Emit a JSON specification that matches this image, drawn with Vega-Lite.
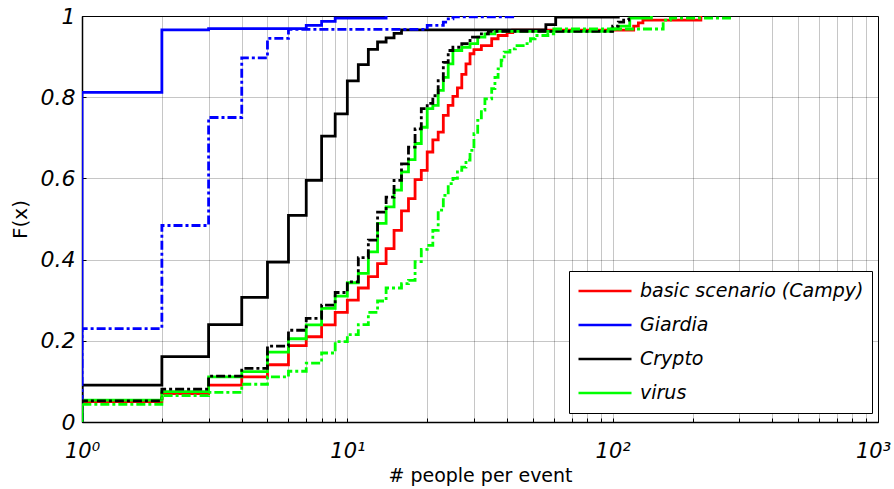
{
  "$schema": "https://vega.github.io/schema/vega-lite/v6.json",
  "autosize": "none",
  "width": 796,
  "height": 406,
  "padding": {"left": 82, "top": 16, "right": 16, "bottom": 67},
  "background": "white",
  "config": {
    "view": {"stroke": "black", "strokeWidth": 1},
    "axis": {
      "domainColor": "black",
      "domainWidth": 1.5,
      "gridColor": "#000000",
      "gridOpacity": 0.45,
      "gridDash": [1, 1],
      "gridWidth": 1,
      "ticks": true,
      "tickSize": -4,
      "tickColor": "black",
      "tickWidth": 1,
      "labelFlush": false,
      "labelColor": "black",
      "labelFont": "DejaVu Sans",
      "labelFontStyle": "italic",
      "labelFontSize": 22,
      "titleColor": "black",
      "titleFont": "DejaVu Sans",
      "titleFontWeight": "normal",
      "titleFontSize": 19
    },
    "legend": {
      "labelFont": "DejaVu Sans",
      "labelFontStyle": "italic",
      "labelFontSize": 19,
      "labelColor": "black",
      "labelLimit": 400
    }
  },
  "data": {
    "values": [
      {"agent": "basic scenario (Campy)", "run": "a", "n": 1, "F": 0},
      {"agent": "basic scenario (Campy)", "run": "a", "n": 1, "F": 0.050},
      {"agent": "basic scenario (Campy)", "run": "a", "n": 2, "F": 0.070},
      {"agent": "basic scenario (Campy)", "run": "a", "n": 3, "F": 0.091},
      {"agent": "basic scenario (Campy)", "run": "a", "n": 4, "F": 0.111},
      {"agent": "basic scenario (Campy)", "run": "a", "n": 5, "F": 0.141},
      {"agent": "basic scenario (Campy)", "run": "a", "n": 6, "F": 0.188},
      {"agent": "basic scenario (Campy)", "run": "a", "n": 7, "F": 0.210},
      {"agent": "basic scenario (Campy)", "run": "a", "n": 8, "F": 0.239},
      {"agent": "basic scenario (Campy)", "run": "a", "n": 9, "F": 0.270},
      {"agent": "basic scenario (Campy)", "run": "a", "n": 10, "F": 0.300},
      {"agent": "basic scenario (Campy)", "run": "a", "n": 11, "F": 0.330},
      {"agent": "basic scenario (Campy)", "run": "a", "n": 12, "F": 0.358},
      {"agent": "basic scenario (Campy)", "run": "a", "n": 13, "F": 0.390},
      {"agent": "basic scenario (Campy)", "run": "a", "n": 14, "F": 0.427},
      {"agent": "basic scenario (Campy)", "run": "a", "n": 15, "F": 0.472},
      {"agent": "basic scenario (Campy)", "run": "a", "n": 16, "F": 0.520},
      {"agent": "basic scenario (Campy)", "run": "a", "n": 17, "F": 0.550},
      {"agent": "basic scenario (Campy)", "run": "a", "n": 18, "F": 0.597},
      {"agent": "basic scenario (Campy)", "run": "a", "n": 19, "F": 0.620},
      {"agent": "basic scenario (Campy)", "run": "a", "n": 20, "F": 0.665},
      {"agent": "basic scenario (Campy)", "run": "a", "n": 21, "F": 0.695},
      {"agent": "basic scenario (Campy)", "run": "a", "n": 22, "F": 0.714},
      {"agent": "basic scenario (Campy)", "run": "a", "n": 23, "F": 0.755},
      {"agent": "basic scenario (Campy)", "run": "a", "n": 24, "F": 0.780},
      {"agent": "basic scenario (Campy)", "run": "a", "n": 25, "F": 0.802},
      {"agent": "basic scenario (Campy)", "run": "a", "n": 26, "F": 0.823},
      {"agent": "basic scenario (Campy)", "run": "a", "n": 27, "F": 0.856},
      {"agent": "basic scenario (Campy)", "run": "a", "n": 28, "F": 0.882},
      {"agent": "basic scenario (Campy)", "run": "a", "n": 29, "F": 0.907},
      {"agent": "basic scenario (Campy)", "run": "a", "n": 30, "F": 0.917},
      {"agent": "basic scenario (Campy)", "run": "a", "n": 32, "F": 0.927},
      {"agent": "basic scenario (Campy)", "run": "a", "n": 35, "F": 0.944},
      {"agent": "basic scenario (Campy)", "run": "a", "n": 37, "F": 0.952},
      {"agent": "basic scenario (Campy)", "run": "a", "n": 40, "F": 0.959},
      {"agent": "basic scenario (Campy)", "run": "a", "n": 42, "F": 0.965},
      {"agent": "basic scenario (Campy)", "run": "a", "n": 120, "F": 0.975},
      {"agent": "basic scenario (Campy)", "run": "a", "n": 125, "F": 0.983},
      {"agent": "basic scenario (Campy)", "run": "a", "n": 130, "F": 0.990},
      {"agent": "basic scenario (Campy)", "run": "a", "n": 215, "F": 1.0},

      {"agent": "Giardia", "run": "a", "n": 1, "F": 0},
      {"agent": "Giardia", "run": "a", "n": 1, "F": 0.812},
      {"agent": "Giardia", "run": "a", "n": 2, "F": 0.966},
      {"agent": "Giardia", "run": "a", "n": 3, "F": 0.969},
      {"agent": "Giardia", "run": "a", "n": 7, "F": 0.977},
      {"agent": "Giardia", "run": "a", "n": 8, "F": 0.987},
      {"agent": "Giardia", "run": "a", "n": 9, "F": 0.995},
      {"agent": "Giardia", "run": "a", "n": 14, "F": 1.0},

      {"agent": "Crypto", "run": "a", "n": 1, "F": 0},
      {"agent": "Crypto", "run": "a", "n": 1, "F": 0.091},
      {"agent": "Crypto", "run": "a", "n": 2, "F": 0.161},
      {"agent": "Crypto", "run": "a", "n": 3, "F": 0.240},
      {"agent": "Crypto", "run": "a", "n": 4, "F": 0.307},
      {"agent": "Crypto", "run": "a", "n": 5, "F": 0.394},
      {"agent": "Crypto", "run": "a", "n": 6, "F": 0.509},
      {"agent": "Crypto", "run": "a", "n": 7, "F": 0.595},
      {"agent": "Crypto", "run": "a", "n": 8, "F": 0.704},
      {"agent": "Crypto", "run": "a", "n": 9, "F": 0.759},
      {"agent": "Crypto", "run": "a", "n": 10, "F": 0.840},
      {"agent": "Crypto", "run": "a", "n": 11, "F": 0.880},
      {"agent": "Crypto", "run": "a", "n": 12, "F": 0.918},
      {"agent": "Crypto", "run": "a", "n": 13, "F": 0.936},
      {"agent": "Crypto", "run": "a", "n": 14, "F": 0.946},
      {"agent": "Crypto", "run": "a", "n": 15, "F": 0.957},
      {"agent": "Crypto", "run": "a", "n": 16, "F": 0.966},
      {"agent": "Crypto", "run": "a", "n": 56, "F": 0.979},
      {"agent": "Crypto", "run": "a", "n": 61, "F": 0.997},
      {"agent": "Crypto", "run": "a", "n": 105, "F": 1.0},

      {"agent": "virus", "run": "a", "n": 1, "F": 0},
      {"agent": "virus", "run": "a", "n": 1, "F": 0.054},
      {"agent": "virus", "run": "a", "n": 2, "F": 0.075},
      {"agent": "virus", "run": "a", "n": 3, "F": 0.111},
      {"agent": "virus", "run": "a", "n": 4, "F": 0.124},
      {"agent": "virus", "run": "a", "n": 5, "F": 0.172},
      {"agent": "virus", "run": "a", "n": 6, "F": 0.205},
      {"agent": "virus", "run": "a", "n": 7, "F": 0.239},
      {"agent": "virus", "run": "a", "n": 8, "F": 0.280},
      {"agent": "virus", "run": "a", "n": 9, "F": 0.310},
      {"agent": "virus", "run": "a", "n": 10, "F": 0.343},
      {"agent": "virus", "run": "a", "n": 11, "F": 0.366},
      {"agent": "virus", "run": "a", "n": 12, "F": 0.419},
      {"agent": "virus", "run": "a", "n": 13, "F": 0.489},
      {"agent": "virus", "run": "a", "n": 14, "F": 0.530},
      {"agent": "virus", "run": "a", "n": 15, "F": 0.571},
      {"agent": "virus", "run": "a", "n": 16, "F": 0.616},
      {"agent": "virus", "run": "a", "n": 17, "F": 0.646},
      {"agent": "virus", "run": "a", "n": 18, "F": 0.686},
      {"agent": "virus", "run": "a", "n": 19, "F": 0.726},
      {"agent": "virus", "run": "a", "n": 20, "F": 0.772},
      {"agent": "virus", "run": "a", "n": 21, "F": 0.780},
      {"agent": "virus", "run": "a", "n": 22, "F": 0.817},
      {"agent": "virus", "run": "a", "n": 23, "F": 0.849},
      {"agent": "virus", "run": "a", "n": 24, "F": 0.882},
      {"agent": "virus", "run": "a", "n": 25, "F": 0.915},
      {"agent": "virus", "run": "a", "n": 27, "F": 0.923},
      {"agent": "virus", "run": "a", "n": 29, "F": 0.932},
      {"agent": "virus", "run": "a", "n": 31, "F": 0.948},
      {"agent": "virus", "run": "a", "n": 33, "F": 0.956},
      {"agent": "virus", "run": "a", "n": 36, "F": 0.962},
      {"agent": "virus", "run": "a", "n": 99, "F": 0.968},
      {"agent": "virus", "run": "a", "n": 105, "F": 0.975},
      {"agent": "virus", "run": "a", "n": 116, "F": 0.995},
      {"agent": "virus", "run": "a", "n": 140, "F": 1.0},

      {"agent": "Giardia", "run": "b", "n": 1, "F": 0},
      {"agent": "Giardia", "run": "b", "n": 1, "F": 0.230},
      {"agent": "Giardia", "run": "b", "n": 2, "F": 0.484},
      {"agent": "Giardia", "run": "b", "n": 3, "F": 0.750},
      {"agent": "Giardia", "run": "b", "n": 4, "F": 0.897},
      {"agent": "Giardia", "run": "b", "n": 5, "F": 0.945},
      {"agent": "Giardia", "run": "b", "n": 6, "F": 0.967},
      {"agent": "Giardia", "run": "b", "n": 20, "F": 0.977},
      {"agent": "Giardia", "run": "b", "n": 23, "F": 0.985},
      {"agent": "Giardia", "run": "b", "n": 24, "F": 0.993},
      {"agent": "Giardia", "run": "b", "n": 25, "F": 0.998},
      {"agent": "Giardia", "run": "b", "n": 42, "F": 1.0},

      {"agent": "Crypto", "run": "b", "n": 1, "F": 0},
      {"agent": "Crypto", "run": "b", "n": 1, "F": 0.052},
      {"agent": "Crypto", "run": "b", "n": 2, "F": 0.081},
      {"agent": "Crypto", "run": "b", "n": 3, "F": 0.113},
      {"agent": "Crypto", "run": "b", "n": 4, "F": 0.132},
      {"agent": "Crypto", "run": "b", "n": 5, "F": 0.187},
      {"agent": "Crypto", "run": "b", "n": 6, "F": 0.226},
      {"agent": "Crypto", "run": "b", "n": 7, "F": 0.255},
      {"agent": "Crypto", "run": "b", "n": 8, "F": 0.288},
      {"agent": "Crypto", "run": "b", "n": 9, "F": 0.319},
      {"agent": "Crypto", "run": "b", "n": 10, "F": 0.345},
      {"agent": "Crypto", "run": "b", "n": 11, "F": 0.405},
      {"agent": "Crypto", "run": "b", "n": 12, "F": 0.448},
      {"agent": "Crypto", "run": "b", "n": 13, "F": 0.517},
      {"agent": "Crypto", "run": "b", "n": 14, "F": 0.554},
      {"agent": "Crypto", "run": "b", "n": 15, "F": 0.595},
      {"agent": "Crypto", "run": "b", "n": 16, "F": 0.636},
      {"agent": "Crypto", "run": "b", "n": 17, "F": 0.677},
      {"agent": "Crypto", "run": "b", "n": 18, "F": 0.722},
      {"agent": "Crypto", "run": "b", "n": 19, "F": 0.772},
      {"agent": "Crypto", "run": "b", "n": 20, "F": 0.785},
      {"agent": "Crypto", "run": "b", "n": 21, "F": 0.804},
      {"agent": "Crypto", "run": "b", "n": 22, "F": 0.841},
      {"agent": "Crypto", "run": "b", "n": 23, "F": 0.886},
      {"agent": "Crypto", "run": "b", "n": 24, "F": 0.915},
      {"agent": "Crypto", "run": "b", "n": 25, "F": 0.923},
      {"agent": "Crypto", "run": "b", "n": 27, "F": 0.932},
      {"agent": "Crypto", "run": "b", "n": 29, "F": 0.948},
      {"agent": "Crypto", "run": "b", "n": 32, "F": 0.956},
      {"agent": "Crypto", "run": "b", "n": 34, "F": 0.962},
      {"agent": "Crypto", "run": "b", "n": 100, "F": 0.975},
      {"agent": "Crypto", "run": "b", "n": 105, "F": 0.985},
      {"agent": "Crypto", "run": "b", "n": 110, "F": 0.990},
      {"agent": "Crypto", "run": "b", "n": 115, "F": 1.0},

      {"agent": "virus", "run": "b", "n": 1, "F": 0},
      {"agent": "virus", "run": "b", "n": 1, "F": 0.0435},
      {"agent": "virus", "run": "b", "n": 2, "F": 0.065},
      {"agent": "virus", "run": "b", "n": 3, "F": 0.073},
      {"agent": "virus", "run": "b", "n": 4, "F": 0.093},
      {"agent": "virus", "run": "b", "n": 5, "F": 0.111},
      {"agent": "virus", "run": "b", "n": 6, "F": 0.125},
      {"agent": "virus", "run": "b", "n": 7, "F": 0.145},
      {"agent": "virus", "run": "b", "n": 8, "F": 0.170},
      {"agent": "virus", "run": "b", "n": 9, "F": 0.198},
      {"agent": "virus", "run": "b", "n": 10, "F": 0.215},
      {"agent": "virus", "run": "b", "n": 11, "F": 0.240},
      {"agent": "virus", "run": "b", "n": 12, "F": 0.270},
      {"agent": "virus", "run": "b", "n": 13, "F": 0.298},
      {"agent": "virus", "run": "b", "n": 14, "F": 0.330},
      {"agent": "virus", "run": "b", "n": 16, "F": 0.341},
      {"agent": "virus", "run": "b", "n": 17, "F": 0.349},
      {"agent": "virus", "run": "b", "n": 18, "F": 0.395},
      {"agent": "virus", "run": "b", "n": 19, "F": 0.425},
      {"agent": "virus", "run": "b", "n": 20, "F": 0.435},
      {"agent": "virus", "run": "b", "n": 21, "F": 0.472},
      {"agent": "virus", "run": "b", "n": 22, "F": 0.522},
      {"agent": "virus", "run": "b", "n": 23, "F": 0.558},
      {"agent": "virus", "run": "b", "n": 24, "F": 0.587},
      {"agent": "virus", "run": "b", "n": 25, "F": 0.600},
      {"agent": "virus", "run": "b", "n": 26, "F": 0.620},
      {"agent": "virus", "run": "b", "n": 27, "F": 0.628},
      {"agent": "virus", "run": "b", "n": 28, "F": 0.645},
      {"agent": "virus", "run": "b", "n": 29, "F": 0.669},
      {"agent": "virus", "run": "b", "n": 30, "F": 0.710},
      {"agent": "virus", "run": "b", "n": 31, "F": 0.743},
      {"agent": "virus", "run": "b", "n": 32, "F": 0.768},
      {"agent": "virus", "run": "b", "n": 33, "F": 0.796},
      {"agent": "virus", "run": "b", "n": 35, "F": 0.821},
      {"agent": "virus", "run": "b", "n": 36, "F": 0.849},
      {"agent": "virus", "run": "b", "n": 37, "F": 0.870},
      {"agent": "virus", "run": "b", "n": 38, "F": 0.891},
      {"agent": "virus", "run": "b", "n": 39, "F": 0.911},
      {"agent": "virus", "run": "b", "n": 41, "F": 0.919},
      {"agent": "virus", "run": "b", "n": 43, "F": 0.927},
      {"agent": "virus", "run": "b", "n": 46, "F": 0.932},
      {"agent": "virus", "run": "b", "n": 49, "F": 0.944},
      {"agent": "virus", "run": "b", "n": 51, "F": 0.952},
      {"agent": "virus", "run": "b", "n": 57, "F": 0.956},
      {"agent": "virus", "run": "b", "n": 60, "F": 0.968},
      {"agent": "virus", "run": "b", "n": 155, "F": 0.990},
      {"agent": "virus", "run": "b", "n": 165, "F": 0.995},
      {"agent": "virus", "run": "b", "n": 280, "F": 1.0}
    ]
  },
  "mark": {"type": "line", "interpolate": "step-after", "strokeWidth": 2.8, "clip": true},
  "encoding": {
    "x": {
      "field": "n",
      "type": "quantitative",
      "scale": {"type": "log", "domain": [1, 1000], "nice": false},
      "axis": {
        "title": "# people per event",
        "titlePadding": 5,
        "labelPadding": 22,
        "labelFontSize": 21,
        "labelOffset": {"condition": {"test": "datum.value == 1000", "value": -5}, "value": 0},
        "values": [1, 2, 3, 4, 5, 6, 7, 8, 9, 10, 20, 30, 40, 50, 60, 70, 80, 90, 100, 200, 300, 400, 500, 600, 700, 800, 900, 1000],
        "labelExpr": "datum.value == 1 ? '10⁰' : datum.value == 10 ? '10¹' : datum.value == 100 ? '10²' : datum.value == 1000 ? '10³' : ''",
        "labelOverlap": false
      }
    },
    "y": {
      "field": "F",
      "type": "quantitative",
      "scale": {"domain": [0, 1], "nice": false},
      "axis": {
        "title": "F(x)",
        "titleFontSize": 20,
        "titlePadding": 10,
        "labelPadding": 11,
        "values": [0, 0.2, 0.4, 0.6, 0.8, 1],
        "format": "~g"
      }
    },
    "color": {
      "field": "agent",
      "type": "nominal",
      "scale": {
        "domain": ["basic scenario (Campy)", "Giardia", "Crypto", "virus"],
        "range": ["#ff0000", "#0000ff", "#000000", "#00ff00"]
      },
      "legend": {
        "title": null,
        "orient": "none",
        "legendX": 487,
        "legendY": 255,
        "symbolType": "stroke",
        "symbolSize": 2809,
        "symbolStrokeWidth": 2.5,
        "clipHeight": 24,
        "labelOffset": 7,
        "padding": 8,
        "rowPadding": 10,
        "strokeColor": "black",
        "fillColor": "white"
      }
    },
    "strokeDash": {
      "field": "run",
      "type": "nominal",
      "scale": {"domain": ["a", "b"], "range": [[1, 0], [9, 3, 3, 3]]},
      "legend": null
    }
  }
}
